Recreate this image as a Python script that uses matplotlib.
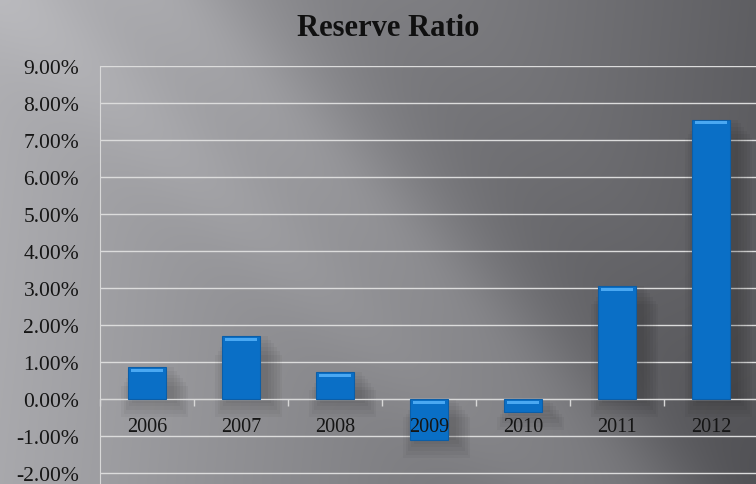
import numpy as np
import matplotlib; matplotlib.use("Agg")
import matplotlib.pyplot as plt
from matplotlib.ticker import FuncFormatter, FixedLocator

YEARS = ["2006", "2007", "2008", "2009", "2010", "2011", "2012"]
RATIO = [0.0086, 0.0170, 0.0073, -0.0111, -0.0035, 0.0306, 0.0755]
TITLE = "Reserve Ratio"

plt.rcParams["font.family"] = ["Liberation Serif", "DejaVu Serif"]

fig = plt.figure(figsize=(7.56, 4.85), dpi=100)

# gray slide background with diagonal light streaks
bg = fig.add_axes([0, 0, 1, 1], zorder=0)
h, w = 485, 756
yy, xx = np.mgrid[0:h, 0:w]
x = xx / w; y = yy / h
g = 0.68 - 0.31 * x - 0.02 * y
g += 0.05 * np.exp(-((x - 0.62 * y - 0.22) / 0.09) ** 2)
g += 0.05 * np.exp(-((x - 0.70 * y - 0.02) / 0.10) ** 2)
g -= 0.03 * np.exp(-((x - 0.55 * y - 0.45) / 0.12) ** 2)
rgb = np.dstack([g, g, g + 0.015]).clip(0, 1)
bg.imshow(rgb, aspect="auto", extent=[0, 1, 0, 1], interpolation="bilinear")
bg.set_axis_off()

ax = fig.add_axes([0.1323, 0.0, 0.8704, 0.8619], zorder=1)
ax.patch.set_alpha(0)
pos = np.arange(len(YEARS))

# soft shadows under the bars
for p, v in zip(pos, RATIO):
    for k in range(6):
        ax.bar(p + 0.08, v, width=0.42 + 0.06 * k, bottom=-0.001 * k,
               color="black", alpha=0.035, linewidth=0, zorder=2)

ax.bar(pos, RATIO, width=0.41, color="#0a6fc6", edgecolor="#0b5ea8",
       linewidth=0.8, zorder=3)
tops = [max(v, 0) for v in RATIO]
ax.bar(pos, 0.0008, width=0.34, bottom=[t - 0.0013 for t in tops],
       color="#4aa8f2", linewidth=0, zorder=4)

ax.set_xlim(-0.5, 6.5)
ax.set_ylim(-0.023, 0.09)
ax.set_yticks(np.arange(-0.02, 0.0901, 0.01))
ax.yaxis.set_major_formatter(FuncFormatter(lambda v, _: f"{v * 100:.2f}%"))
ax.grid(axis="y", color="#dcdcdc", linewidth=1.0, zorder=1)
ax.set_axisbelow(True)

ax.spines["bottom"].set_position(("data", 0))
for s in ("top", "right"):
    ax.spines[s].set_visible(False)
ax.spines["left"].set_color("#d8d8d8")
ax.spines["bottom"].set_color("#d8d8d8")
ax.spines["left"].set_bounds(-0.023, 0.09)

ax.xaxis.set_major_locator(FixedLocator(np.arange(-0.5, 7.0, 1.0)))
ax.xaxis.set_major_formatter(FuncFormatter(lambda v, _: ""))
ax.set_xticks(pos, YEARS, minor=True)
ax.tick_params(axis="x", which="major", direction="out", length=5,
               color="#d8d8d8", width=1)
ax.tick_params(axis="x", which="minor", length=0, pad=13, labelsize=14.5,
               labelcolor="#151515")
ax.tick_params(axis="y", length=0, pad=15, labelsize=15.5, labelcolor="#151515")
ax.xaxis.set_zorder(6)

fig.text(0.513, 0.942, TITLE, ha="center", va="center", fontsize=22,
         fontweight="bold", color="#101010")

fig.savefig("out.png", dpi=100)
